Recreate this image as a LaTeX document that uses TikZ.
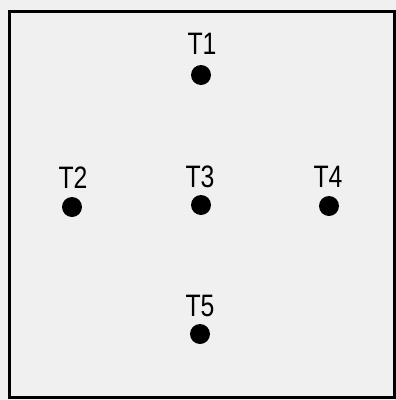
\documentclass[tikz,border=0pt]{standalone}
\usepackage{fontspec}
\setmainfont{Liberation Sans}
\definecolor{paper}{RGB}{240,240,240}
\begin{document}
\begin{tikzpicture}[x=1pt,y=-1pt,
  dot/.style={circle,fill=black,inner sep=0pt,minimum size=20pt},
  lbl/.style={anchor=base,inner sep=0pt,font=\fontsize{31}{31}\selectfont},
  frame/.style={draw=black,line width=3pt}]
\useasboundingbox (0,0) rectangle (396,400);
\fill[paper] (0,0) rectangle (396,400);
\draw[frame] (9.5,11.5) rectangle (394,397);
\node[dot] (d1) at (201,75) {};
\node[dot] (d2) at (72,207) {};
\node[dot] (d3) at (201,205) {};
\node[dot] (d4) at (329,206) {};
\node[dot] (d5) at (200,334) {};
\node[lbl] (t1) at (202,54) {\scalebox{0.8}[1]{T1}};
\node[lbl] (t2) at (73,188) {\scalebox{0.8}[1]{T2}};
\node[lbl] (t3) at (200,187) {\scalebox{0.8}[1]{T3}};
\node[lbl] (t4) at (328,187) {\scalebox{0.8}[1]{T4}};
\node[lbl] (t5) at (200,316) {\scalebox{0.8}[1]{T5}};
\end{tikzpicture}
\end{document}
